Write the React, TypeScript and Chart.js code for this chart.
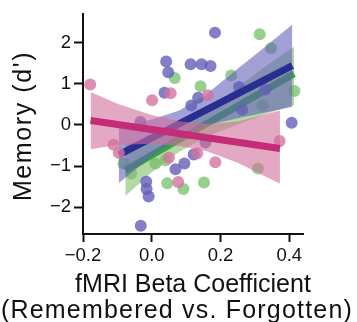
import React, { useEffect, useRef } from "react";
import { Chart, registerables } from "chart.js";

Chart.register(...registerables);

// ---- data ----
const xTicks = [-0.2, 0.0, 0.2, 0.4];
const yTicks = [-2, -1, 0, 1, 2];

const purplePoints = [
  { x: 0.184, y: 2.24 }, { x: 0.042, y: 1.54 }, { x: 0.048, y: 1.28 }, { x: 0.113, y: 1.47 },
  { x: 0.145, y: 1.47 }, { x: 0.171, y: 1.43 }, { x: 0.037, y: 0.78 }, { x: 0.135, y: 0.66 },
  { x: 0.115, y: 0.47 }, { x: 0.254, y: 0.92 }, { x: 0.33, y: 0.86 }, { x: 0.263, y: 0.37 },
  { x: 0.407, y: 0.05 }, { x: -0.033, y: 0.07 }, { x: 0.069, y: -1.08 }, { x: 0.095, y: -0.94 },
  { x: 0.122, y: -0.72 }, { x: 0.156, y: -0.43 }, { x: -0.016, y: -1.38 }, { x: -0.015, y: -1.56 },
  { x: -0.009, y: -1.74 }, { x: -0.032, y: -2.45 },
];
const greenPoints = [
  { x: 0.314, y: 2.2 }, { x: 0.347, y: 1.86 }, { x: 0.067, y: 1.14 }, { x: 0.142, y: 0.94 },
  { x: 0.231, y: 1.2 }, { x: 0.415, y: 0.82 }, { x: 0.323, y: 0.47 }, { x: -0.082, y: -0.94 },
  { x: -0.06, y: -1.18 }, { x: 0.011, y: -0.94 }, { x: 0.04, y: -0.86 }, { x: 0.045, y: -1.42 },
  { x: 0.092, y: -1.56 }, { x: 0.152, y: -1.4 }, { x: 0.309, y: -1.06 },
];
const pinkPoints = [
  { x: -0.179, y: 0.98 }, { x: 0.001, y: 0.6 }, { x: 0.055, y: 0.77 }, { x: 0.163, y: 0.72 },
  { x: -0.111, y: -0.48 }, { x: -0.096, y: -0.68 }, { x: 0.05, y: -0.8 }, { x: 0.132, y: -0.69 },
  { x: 0.077, y: -1.39 }, { x: 0.185, y: -0.91 }, { x: 0.372, y: -0.39 },
];

// regression lines (start / end)
const purpleLineX = [-0.096, 0.409];
const purpleLineY = [-0.73, 1.44];
const greenLineX = [-0.077, 0.414];
const greenLineY = [-1.1, 1.24];
const pinkLineX = [-0.178, 0.373];
const pinkLineY = [0.105, -0.575];

// confidence bands
const purpleBandX = [-0.096, 0.0, 0.08, 0.16, 0.25, 0.33, 0.409];
const purpleBandUpper = [-0.05, 0.13, 0.35, 0.75, 1.36, 1.9, 2.44];
const purpleBandLower = [-1.41, -0.77, -0.31, -0.01, 0.16, 0.3, 0.44];
const greenBandX = [-0.077, 0.0, 0.08, 0.16, 0.25, 0.33, 0.414];
const greenBandUpper = [-0.47, -0.31, -0.05, 0.35, 0.91, 1.42, 1.9];
const greenBandLower = [-1.73, -1.15, -0.65, -0.29, 0.01, 0.26, 0.48];
const pinkBandX = [-0.178, -0.1, 0.0, 0.08, 0.16, 0.25, 0.373];
const pinkBandUpper = [0.8, 0.51, 0.24, 0.09, 0.02, 0.08, 0.35];
const pinkBandLower = [-0.59, -0.49, -0.46, -0.51, -0.64, -0.92, -1.43];

const xTitle1 = "fMRI Beta Coefficient";
const xTitle2 = "(Remembered vs. Forgotten)";
const yTitle = "Memory (d')";

const FONT = "'Liberation Sans', Arial, Helvetica, sans-serif";

const zip = (xs: number[], ys: number[]) => xs.map((x, i) => ({ x, y: ys[i] }));
const fmt = (v: number, d: number) => {
  const s = Math.abs(v).toFixed(d);
  return v < -1e-9 ? "\u2212" + s : s;
};

const titlesPlugin = {
  id: "titles",
  afterDraw(chart: any) {
    const ctx = chart.ctx;
    ctx.save();
    ctx.fillStyle = "#111";
    ctx.font = `25px ${FONT}`;
    ctx.textAlign = "center";
    ctx.textBaseline = "alphabetic";
    ctx.letterSpacing = "0px";
    ctx.fillText(xTitle1, 193, 292);
    ctx.letterSpacing = "1.2px";
    ctx.fillText(xTitle2, 177, 318);
    ctx.letterSpacing = "1.6px";
    ctx.translate(31, 126);
    ctx.rotate(-Math.PI / 2);
    ctx.fillText(yTitle, 0, 0);
    ctx.restore();
  },
};

function lineDs(xs: number[], ys: number[], color: string) {
  return {
    type: "line",
    data: zip(xs, ys),
    borderColor: color,
    borderWidth: 7,
    borderCapStyle: "butt",
    pointRadius: 0,
    fill: false,
    showLine: true,
  };
}
function bandDs(xs: number[], ys: number[], color: string, fill: any) {
  return {
    type: "line",
    data: zip(xs, ys),
    borderWidth: 0,
    borderColor: "rgba(0,0,0,0)",
    backgroundColor: color,
    pointRadius: 0,
    fill,
    showLine: true,
    tension: 0,
  };
}
function pointDs(pts: { x: number; y: number }[], color: string) {
  return {
    type: "line",
    data: pts,
    showLine: false,
    pointRadius: 6,
    pointBorderWidth: 0,
    pointBackgroundColor: color,
    borderColor: color,
    fill: false,
  };
}

export default function App() {
  const ref = useRef<HTMLCanvasElement | null>(null);
  useEffect(() => {
    document.body.style.margin = "0";
    const canvas = ref.current!;
    // index 0 is drawn on top
    const datasets: any[] = [
      lineDs(pinkLineX, pinkLineY, "rgb(196,44,120)"),
      bandDs(pinkBandX, pinkBandUpper, "rgba(208,112,155,0.6)", "+1"),
      bandDs(pinkBandX, pinkBandLower, "rgba(0,0,0,0)", false),
      pointDs(pinkPoints, "rgba(212,115,160,0.8)"),
      lineDs(purpleLineX, purpleLineY, "rgb(40,45,145)"),
      bandDs(purpleBandX, purpleBandUpper, "rgba(100,96,185,0.6)", "+1"),
      bandDs(purpleBandX, purpleBandLower, "rgba(0,0,0,0)", false),
      pointDs(purplePoints, "rgba(100,94,185,0.8)"),
      lineDs(greenLineX, greenLineY, "rgb(50,165,60)"),
      bandDs(greenBandX, greenBandUpper, "rgba(125,190,105,0.6)", "+1"),
      bandDs(greenBandX, greenBandLower, "rgba(0,0,0,0)", false),
      pointDs(greenPoints, "rgba(125,195,115,0.8)"),
    ];
    const chart = new Chart(canvas, {
      type: "line",
      data: { datasets },
      plugins: [titlesPlugin],
      options: {
        animation: false,
        responsive: false,
        maintainAspectRatio: false,
        layout: { padding: { left: 0, right: 54, top: 12, bottom: 0 } },
        plugins: { legend: { display: false }, tooltip: { enabled: false } },
        scales: {
          x: {
            type: "linear",
            min: -0.2,
            max: 0.44,
            afterBuildTicks: (s: any) => { s.ticks = xTicks.map((v) => ({ value: v })); },
            afterFit: (s: any) => { s.height = 88; },
            grid: { drawOnChartArea: false, drawTicks: true, tickLength: 8, tickWidth: 2, tickColor: "#111" },
            border: { display: true, color: "#111", width: 2 },
            ticks: {
              color: "#111",
              padding: 3,
              font: { family: FONT, size: 18.5 },
              maxRotation: 0,
              callback: (v: any) => fmt(Number(v), 1),
            },
          },
          y: {
            type: "linear",
            min: -2.65,
            max: 2.69,
            afterBuildTicks: (s: any) => { s.ticks = yTicks.map((v) => ({ value: v })); },
            afterFit: (s: any) => { s.width = 83; },
            grid: { drawOnChartArea: false, drawTicks: true, tickLength: 9, tickWidth: 2, tickColor: "#111" },
            border: { display: true, color: "#111", width: 2 },
            ticks: {
              color: "#111",
              padding: 3,
              font: { family: FONT, size: 18.5 },
              callback: (v: any) => fmt(Number(v), 0),
            },
          },
        },
      },
    } as any);
    return () => chart.destroy();
  }, []);
  return (
    <div style={{ width: 357, height: 322 }}>
      <canvas ref={ref} width={357} height={322} style={{ display: "block" }} />
    </div>
  );
}
